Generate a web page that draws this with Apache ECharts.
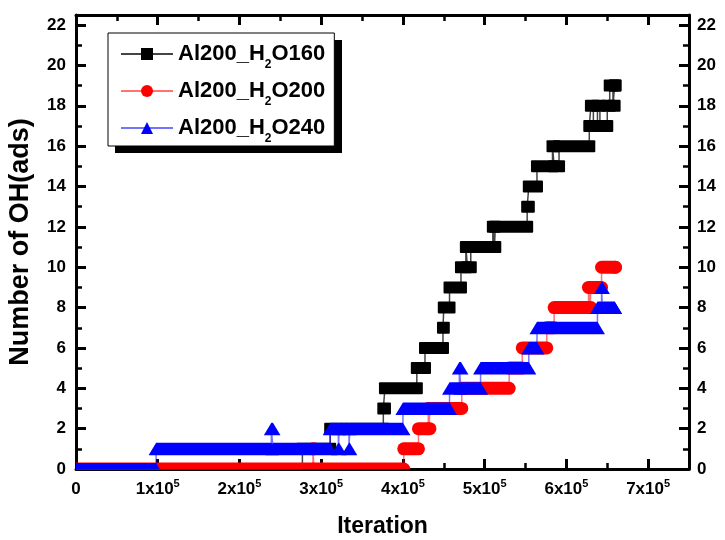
<!DOCTYPE html>
<html>
<head>
<meta charset="utf-8">
<script src="https://cdn.jsdelivr.net/npm/echarts@6/dist/echarts.min.js"></script>
<style>
  html, body { margin: 0; padding: 0; background: #fff; }
  #chart { width: 725px; height: 540px; }
</style>
</head>
<body>
<div id="chart"></div>
<script>
// Number of adsorbed OH versus iteration; each entry is [iteration, count],
// the count holding until the next entry.
const seriesNames = ['Al200_H2O160', 'Al200_H2O200', 'Al200_H2O240'];

const h2o160 = [
  [0, 0], [277000, 1], [311000, 2], [376000, 3], [378000, 4], [417000, 5],
  [427000, 6], [449000, 7], [450000, 8], [457000, 9], [471000, 10],
  [477000, 11], [479000, 10], [483000, 11], [510000, 12], [512000, 11],
  [513000, 12], [552000, 13], [554000, 14], [564000, 15], [583000, 16],
  [585000, 15], [591000, 16], [628000, 17], [630000, 18], [633000, 17],
  [638000, 18], [641000, 17], [650000, 18], [653000, 19], [657000, 18],
  [659000, 19], [660000, 19]
];

const h2o200 = [
  [0, 0], [290000, 1], [291000, 0], [401000, 1], [419000, 2], [431000, 3],
  [432000, 2], [433000, 3], [472000, 4], [530000, 5], [546000, 6],
  [576000, 7], [585000, 8], [627000, 9], [629000, 8], [630000, 9],
  [643000, 10], [660000, 10]
];

const h2o240 = [
  [0, 0], [98000, 1], [239000, 2], [241000, 1], [311000, 2], [321000, 1],
  [322000, 2], [334000, 1], [335000, 2], [400000, 3], [457000, 4],
  [469000, 5], [471000, 4], [495000, 5], [554000, 6], [564000, 7],
  [638000, 8], [643000, 9], [644000, 8], [659000, 8]
];

const xTickLabels = ['0', '1x10^5', '2x10^5', '3x10^5', '4x10^5', '5x10^5', '6x10^5', '7x10^5'];
const yTickLabels = ['0', '2', '4', '6', '8', '10', '12', '14', '16', '18', '20', '22'];

const X_MAX = 750000, X_STEP = 100000;
const Y_MAX = 22.5, Y_STEP = 2;

const FONT = '"Liberation Sans", Arial, sans-serif';

// Each run of a constant value becomes [start, end, value].
function toRuns(steps) {
  const runs = [];
  for (let i = 0; i < steps.length - 1; i++) {
    runs.push([steps[i][0], steps[i + 1][0], steps[i][1]]);
  }
  const last = steps[steps.length - 1];
  runs.push([last[0], last[0], last[1]]);
  return runs;
}

// Symbols plotted densely along a run merge into one swept shape.
function runShape(kind, color) {
  return function (params, api) {
    const a = api.coord([api.value(0), api.value(2)]);
    const b = api.coord([api.value(1), api.value(2)]);
    const w = b[0] - a[0];
    if (kind === 'square') {
      return { type: 'rect', shape: { x: a[0] - 6, y: a[1] - 6, width: w + 12, height: 12, r: 1 }, style: { fill: color } };
    }
    if (kind === 'circle') {
      return { type: 'rect', shape: { x: a[0] - 6.5, y: a[1] - 6.5, width: w + 13, height: 13, r: 6.5 }, style: { fill: color } };
    }
    return {
      type: 'polygon',
      shape: { points: [[a[0], a[1] - 6], [b[0], b[1] - 6], [b[0] + 7.5, b[1] + 6.5], [a[0] - 7.5, a[1] + 6.5]] },
      style: { fill: color }
    };
  };
}

function stepSeries(name, steps, symbol, color, lineColor, z) {
  return {
    name: name, type: 'line', step: 'end', data: steps,
    xAxisIndex: 0, yAxisIndex: 0,
    symbol: symbol, showSymbol: false, z: z,
    itemStyle: { color: color },
    lineStyle: { color: lineColor, width: 1.5 },
    emphasis: { disabled: true }
  };
}

function runSeries(steps, kind, color, z) {
  return {
    type: 'custom', data: toRuns(steps), z: z, clip: true,
    xAxisIndex: 0, yAxisIndex: 0,
    encode: { x: [0, 1], y: 2 },
    renderItem: runShape(kind, color),
    silent: true
  };
}

function xLabel(v) {
  const i = v / X_STEP;
  if (!Number.isInteger(i) || i >= xTickLabels.length) return '';
  const parts = xTickLabels[i].split('^');
  return parts.length > 1 ? '{m|' + parts[0] + '}{s|' + parts[1] + '}' : '{m|' + parts[0] + '}';
}
function yLabel(v) {
  const i = v / Y_STEP;
  if (!Number.isInteger(i) || i >= yTickLabels.length) return '';
  return yTickLabels[i];
}

const tickRich = {
  m: { fontSize: 17, fontWeight: 'bold', fontFamily: FONT, color: '#000', lineHeight: 20 },
  s: { fontSize: 11, fontWeight: 'bold', fontFamily: FONT, color: '#000', lineHeight: 10, padding: [0, 0, 10, 0] }
};

function axis(dim, position, major, extra) {
  const base = {
    type: 'value', gridIndex: 0, position: position,
    min: 0, max: dim === 'x' ? X_MAX : Y_MAX,
    interval: dim === 'x' ? (major ? X_STEP : X_STEP / 2) : (major ? Y_STEP : Y_STEP / 2),
    splitLine: { show: false },
    axisLine: { show: major, onZero: false, lineStyle: { color: '#000', width: 3 } },
    axisTick: { show: true, inside: true, length: major ? 10 : 6, lineStyle: { color: '#000', width: major ? 3 : 2.5 } },
    axisLabel: { show: false }
  };
  return Object.assign(base, extra || {});
}

const yLabelStyle = {
  show: true, margin: 10, formatter: yLabel,
  fontSize: 17, fontWeight: 'bold', fontFamily: FONT, color: '#000'
};

const option = {
  animation: false,
  backgroundColor: '#fff',
  grid: { left: 76, right: 36, top: 15, bottom: 71, outerBoundsMode: 'none' },
  // drop shadow behind the legend box
  graphic: [{
    type: 'rect', left: 115, top: 40, z: 1, silent: true,
    shape: { width: 227, height: 113 },
    style: { fill: '#000' }
  }],
  xAxis: [
    axis('x', 'bottom', true, {
      axisLabel: { show: true, margin: 10, formatter: xLabel, rich: tickRich },
      name: 'Iteration', nameLocation: 'middle', nameGap: 46,
      nameTextStyle: { fontSize: 23, fontWeight: 'bold', fontFamily: FONT, color: '#000' }
    }),
    axis('x', 'top', true),
    axis('x', 'top', false),
    axis('x', 'bottom', false)
  ],
  yAxis: [
    axis('y', 'left', true, {
      axisLabel: yLabelStyle,
      name: 'Number of OH(ads)', nameLocation: 'middle', nameGap: 42,
      nameTextStyle: { fontSize: 27, fontWeight: 'bold', fontFamily: FONT, color: '#000' }
    }),
    axis('y', 'right', true, { axisLabel: Object.assign({}, yLabelStyle, { margin: 8 }) }),
    axis('y', 'right', false),
    axis('y', 'left', false)
  ],
  legend: {
    data: seriesNames,
    left: 108, top: 33, orient: 'vertical', z: 10,
    itemWidth: 52, itemHeight: 15, itemGap: 3,
    padding: [4, 9, 1, 12],
    backgroundColor: '#fff', borderColor: '#000', borderWidth: 1,
    selectedMode: false,
    formatter: function (name) {
      return '{t|' + name.replace('H2O', 'H}{sub|2}{t|O') + '}';
    },
    textStyle: {
      rich: {
        t: { fontSize: 22, fontWeight: 'bold', fontFamily: FONT, color: '#000', lineHeight: 26 },
        sub: { fontSize: 12, fontWeight: 'bold', fontFamily: FONT, color: '#000', lineHeight: 10, padding: [22, 0, 0, 0] }
      }
    }
  },
  series: [
    stepSeries(seriesNames[0], h2o160, 'rect', '#000', '#444', 2),
    runSeries(h2o160, 'square', '#000', 3),
    stepSeries(seriesNames[1], h2o200, 'circle', '#ff0000', 'rgba(255,0,0,0.55)', 4),
    runSeries(h2o200, 'circle', '#ff0000', 5),
    stepSeries(seriesNames[2], h2o240, 'triangle', '#0000ff', 'rgba(0,0,255,0.55)', 6),
    runSeries(h2o240, 'triangle', '#0000ff', 7)
  ]
};

const chart = echarts.init(document.getElementById('chart'), null, { renderer: 'canvas' });
chart.setOption(option);
</script>
</body>
</html>
